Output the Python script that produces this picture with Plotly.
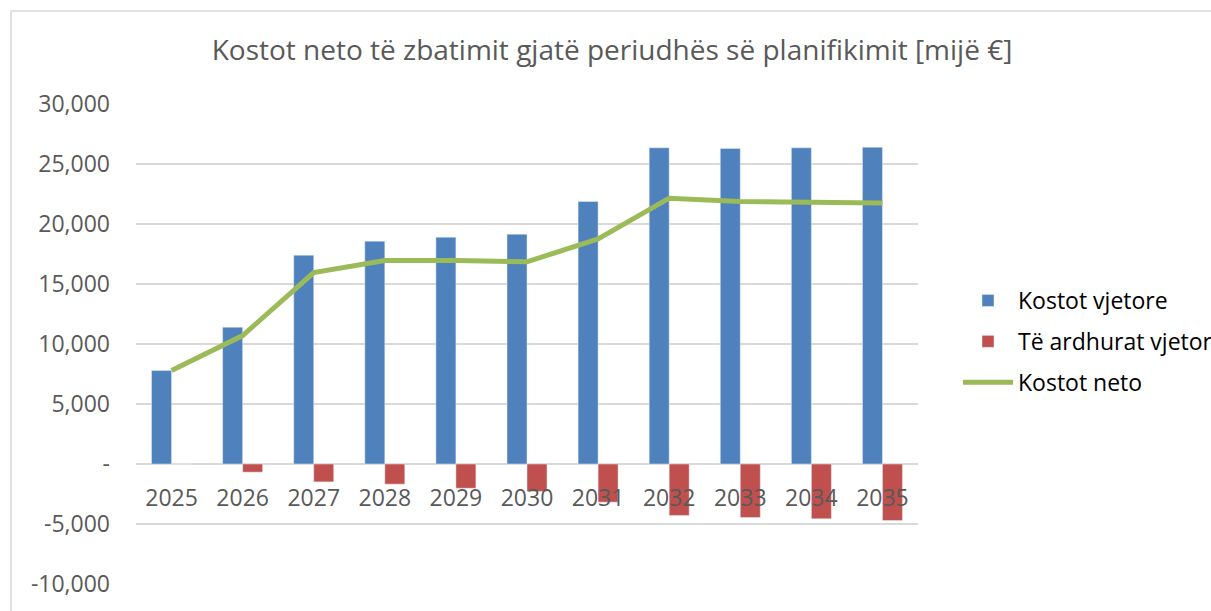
import plotly.graph_objects as go

years = ["2025", "2026", "2027", "2028", "2029", "2030", "2031", "2032", "2033", "2034", "2035"]
kostot_vjetore = [7800, 11400, 17400, 18570, 18900, 19150, 21880, 26350, 26290, 26350, 26400]
te_ardhurat = [0, -680, -1490, -1680, -2020, -2290, -3180, -4290, -4460, -4570, -4710]
kostot_neto = [7800, 10700, 15950, 16950, 16950, 16850, 18750, 22150, 21870, 21850, 21750]

y_tickvals = [-10000, -5000, 0, 5000, 10000, 15000, 20000, 25000, 30000]
y_ticktext = ["-10,000", "-5,000", "-", "5,000", "10,000", "15,000", "20,000", "25,000", "30,000"]

title_text = "Kostot neto të zbatimit gjatë periudhës së planifikimit [mijë €]"
names = ["Kostot vjetore", "Të ardhurat vjetore", "Kostot neto"]

FONT = "Open Sans"
GRID = "#D9D9D9"
TXT = "#595959"

fig = go.Figure()
fig.add_trace(go.Bar(x=years, y=kostot_vjetore, name=names[0], marker_color="#4F81BD",
                     legendgroup="a"))
fig.add_trace(go.Bar(x=years, y=te_ardhurat, name=names[1], marker_color="#C0504D",
                     legendgroup="b"))
fig.add_trace(go.Scatter(x=years, y=kostot_neto, name=names[2], mode="lines",
                         line=dict(color="#9BBB59", width=5), legendgroup="c"))

L, R, T, B = 136, 293, 104, 27
W, H = 1211, 611
pw, ph = W - L - R, H - T - B

def px_x(p):
    return (p - L) / pw

def px_y(p):
    return (H - B - p) / ph

fig.update_layout(
    width=W, height=H,
    margin=dict(l=L, r=R, t=T, b=B, autoexpand=False),
    paper_bgcolor="white", plot_bgcolor="white",
    barmode="group", bargap=0.4375, bargroupgap=0,
    font=dict(family=FONT, size=23, color=TXT),
    title=dict(text=title_text, font=dict(family=FONT, size=28, color=TXT),
               xref="paper", x=px_x(612), xanchor="center",
               yref="container", y=1 - 50 / H, yanchor="middle"),
    xaxis=dict(type="category", anchor="free", position=px_y(463.5),
               showgrid=False, showline=False, ticks="",
               tickfont=dict(family=FONT, size=23, color=TXT),
               ticklabelstandoff=18),
    yaxis=dict(range=[-10000, 30000], tickvals=y_tickvals, ticktext=y_ticktext,
               showgrid=True, gridcolor=GRID, gridwidth=1.5,
               zeroline=True, zerolinecolor=GRID, zerolinewidth=1.5,
               tickfont=dict(family=FONT, size=23, color=TXT),
               ticklabelstandoff=25),
    legend=dict(x=px_x(958), xanchor="left", y=px_y(279), yanchor="top",
                font=dict(family=FONT, size=23, color="#000000"),
                traceorder="grouped", tracegroupgap=8, itemwidth=50,
                bgcolor="rgba(0,0,0,0)"),
    showlegend=True,
    shapes=[
        dict(type="line", xref="paper", yref="paper", x0=px_x(11), x1=px_x(1215),
             y0=px_y(11), y1=px_y(11), line=dict(color=GRID, width=1.5)),
        dict(type="line", xref="paper", yref="paper", x0=px_x(11), x1=px_x(11),
             y0=px_y(11), y1=px_y(615), line=dict(color=GRID, width=1.5)),
    ],
)

fig.write_html("out.html", config={"displayModeBar": False},
               post_script="document.body.style.margin='0';")
